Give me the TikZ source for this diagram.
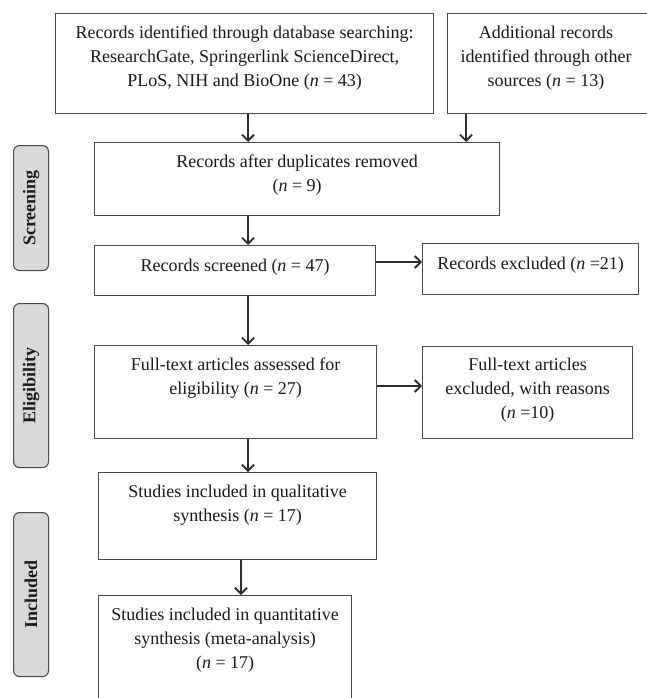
\documentclass[tikz,border=0pt]{standalone}
\usepackage{fontspec}
\setmainfont{Liberation Serif}
\usepackage{xcolor}
\usepackage{tikz}
\usetikzlibrary{arrows.meta,calc}
\definecolor{boxedge}{HTML}{4A4A4A}
\definecolor{arrowink}{HTML}{2E2E2E}
\definecolor{tagfill}{HTML}{D9D9D9}
\definecolor{ink}{HTML}{1A1A1A}
\tikzset{
  flowBox/.style={draw=boxedge, line width=1.2pt, rectangle, inner sep=0pt, anchor=north west},
  flowTxt/.style={text=ink, align=center, inner sep=0pt, anchor=north, font=\fontsize{18}{24}\selectfont},
  phaseTag/.style={draw=boxedge, fill=tagfill, line width=1.1pt, rounded corners=6pt, inner sep=0pt,
    anchor=north west, minimum width=35pt},
  phaseLbl/.style={text=ink, rotate=90, inner sep=0pt, font=\fontsize{18}{22}\selectfont\bfseries},
  flowArrow/.style={draw=arrowink, line width=1.1pt, -{Straight Barb[length=6pt,width=12pt,line width=1.8pt]}},
}
\newcommand{\FlowGuides}{%
  \coordinate (colMain) at (248,0);
  \coordinate (colSide) at (466,0);
  \coordinate (colLast) at (241,0);
  \coordinate (rowScr)  at (0,262);
  \coordinate (rowElig) at (0,386);
}

\begin{document}
\begin{tikzpicture}[x=1pt, y=-1pt]
  \useasboundingbox (0,0) rectangle (646,698);
  \FlowGuides

  % identification
  \node[flowBox, minimum width=378pt, minimum height=100pt] (recDb) at (55,13) {};
  \node[flowTxt] (recDbTxt) at ([yshift=-13pt]recDb.north)
    {Records identified through database searching:\\ResearchGate, Springerlink ScienceDirect,\\PLoS, NIH and BioOne (\textit{n} = 43)};
  \node[flowBox, minimum width=203pt, minimum height=100pt] (recOther) at (447,13) {};
  \node[flowTxt] (recOtherTxt) at (546,26)
    {Additional records\\identified through other\\sources (\textit{n} = 13)};

  % screening
  \node[flowBox, minimum width=405pt, minimum height=73pt] (recDup) at (94,142) {};
  \node[flowTxt] (recDupTxt) at ([yshift=-13pt]recDup.north)
    {Records after duplicates removed\\(\textit{n} = 9)};
  \node[flowBox, minimum width=281pt, minimum height=50pt] (recScr) at (94,245) {};
  \node[flowTxt] (recScrTxt) at ([yshift=-14pt]recScr.north) {Records screened (\textit{n} = 47)};
  \node[flowBox, minimum width=216pt, minimum height=51pt] (recExc) at (422,243) {};
  \node[flowTxt] (recExcTxt) at ([yshift=-14pt]recExc.north) {Records excluded (\textit{n} =21)};

  % eligibility
  \node[flowBox, minimum width=282pt, minimum height=93pt] (fullTxt) at (94,345) {};
  \node[flowTxt] (fullTxtTxt) at ([yshift=-13pt]fullTxt.north)
    {Full-text articles assessed for\\eligibility (\textit{n} = 27)};
  \node[flowBox, minimum width=210pt, minimum height=92pt] (fullExc) at (422,346) {};
  \node[flowTxt] (fullExcTxt) at ([yshift=-12pt]fullExc.north)
    {Full-text articles\\excluded, with reasons\\(\textit{n} =10)};

  % included
  \node[flowBox, minimum width=278pt, minimum height=87pt] (studQual) at (98,472) {};
  \node[flowTxt] (studQualTxt) at ([yshift=-13pt]studQual.north)
    {Studies included in qualitative\\synthesis (\textit{n} = 17)};
  \node[flowBox, minimum width=253pt, minimum height=110pt] (studQuant) at (98,595) {};
  \node[flowTxt] (studQuantTxt) at ([yshift=-13pt]studQuant.north)
    {Studies included in quantitative\\synthesis (meta-analysis)\\(\textit{n} = 17)};

  % phase tags
  \node[phaseTag, minimum height=125pt] (tagScr) at (13,145) {};
  \node[phaseLbl] (tagScrLbl) at (tagScr.center) {Screening};
  \node[phaseTag, minimum height=164pt] (tagElig) at (13,303) {};
  \node[phaseLbl] (tagEligLbl) at (tagElig.center) {Eligibility};
  \node[phaseTag, minimum height=164pt] (tagInc) at (13,512) {};
  \node[phaseLbl] (tagIncLbl) at (tagInc.center) {Included};

  % arrows
  \draw[flowArrow] (recDb.south -| colMain) -- (recDup.north -| colMain);
  \draw[flowArrow] (recOther.south -| colSide) -- (recDup.north -| colSide);
  \draw[flowArrow] (recDup.south -| colMain) -- (recScr.north -| colMain);
  \draw[flowArrow] (recScr.south -| colMain) -- (fullTxt.north -| colMain);
  \draw[flowArrow] (fullTxt.south -| colMain) -- (studQual.north -| colMain);
  \draw[flowArrow] (studQual.south -| colLast) -- (studQuant.north -| colLast);
  \draw[flowArrow] (recScr.east |- rowScr) -- (recExc.west |- rowScr);
  \draw[flowArrow] (fullTxt.east |- rowElig) -- (fullExc.west |- rowElig);
\end{tikzpicture}
\end{document}
